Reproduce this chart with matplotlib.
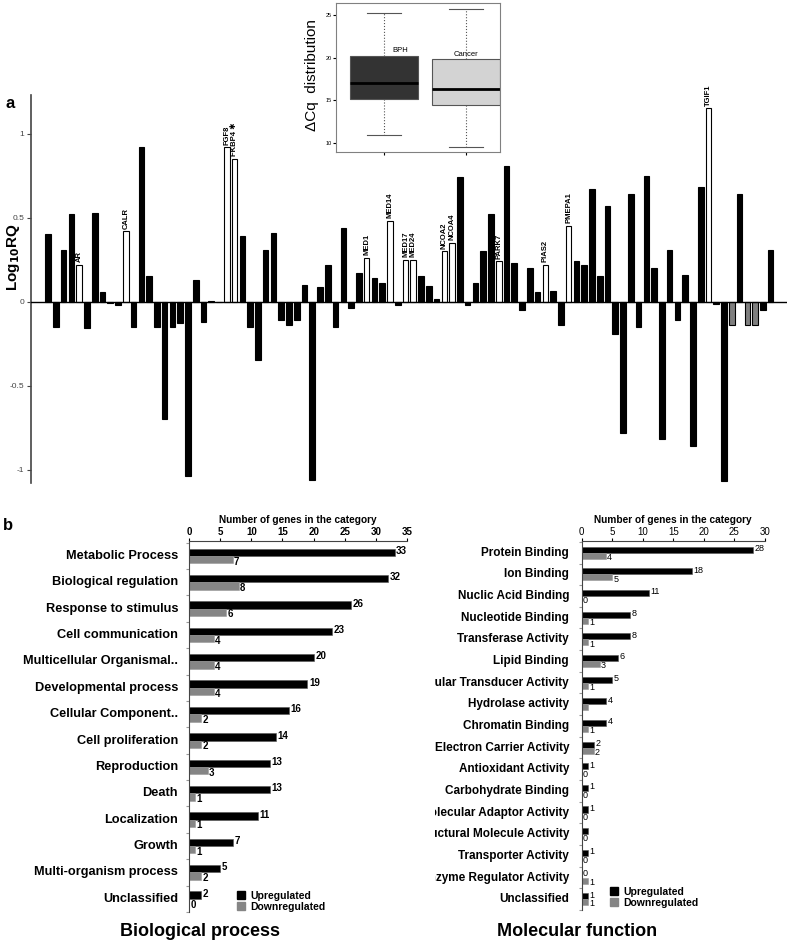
import matplotlib
matplotlib.use("Agg")
import matplotlib.pyplot as plt
from matplotlib.patches import Patch
from matplotlib.transforms import Bbox, TransformedBbox
from matplotlib import font_manager
import numpy as np

plt.rcParams["font.family"] = ["Liberation Sans", "DejaVu Sans"]

# ---- panel a: log10 RQ per gene ----
rq = [0.40, -0.15, 0.31, 0.52, 0.22, -0.16, 0.53, 0.06, -0.01, -0.02,
      0.42, -0.15, 0.92, 0.15, -0.15, -0.70, -0.15, -0.13, -1.04, 0.13,
      -0.12, 0.004, -0.004, 0.92, 0.85, 0.39, -0.15, -0.35, 0.31, 0.41,
      -0.11, -0.14, -0.11, 0.10, -1.06, 0.085, 0.22, -0.15, 0.44, -0.04,
      0.17, 0.26, 0.14, 0.11, 0.48, -0.02, 0.25, 0.25, 0.15, 0.09,
      0.014, 0.30, 0.35, 0.74, -0.02, 0.11, 0.30, 0.52, 0.24, 0.81,
      0.23, -0.05, 0.20, 0.06, 0.22, 0.065, -0.14, 0.45, 0.24, 0.22,
      0.67, 0.15, 0.57, -0.19, -0.78, 0.64, -0.15, 0.75, 0.20, -0.82,
      0.31, -0.11, 0.16, -0.86, 0.68, 1.15, -0.014, -1.07, -0.14, 0.64,
      -0.14, -0.14, -0.05, 0.31]
named_genes = {4: "AR", 10: "CALR", 23: "FGF8", 24: "FKBP4 \u2731", 41: "MED1",
               44: "MED14", 46: "MED17", 47: "MED24", 51: "NCOA2", 52: "NCOA4",
               58: "PARK7", 64: "PIAS2", 67: "PMEPA1", 85: "TGIF1"}
grey_genes = [88, 90, 91]

# inset boxplot stats (whislo, q1, med, q3, whishi)
bph_stats = [11.0, 15.2, 17.0, 20.2, 25.2]
cancer_stats = [9.6, 14.5, 16.3, 19.8, 25.7]

# ---- panel b ----
bp_cats = ["Metabolic Process", "Biological regulation", "Response to stimulus",
           "Cell communication", "Multicellular Organismal..", "Developmental process",
           "Cellular Component..", "Cell proliferation", "Reproduction", "Death",
           "Localization", "Growth", "Multi-organism process", "Unclassified"]
bp_up = [33, 32, 26, 23, 20, 19, 16, 14, 13, 13, 11, 7, 5, 2]
bp_down = [7, 8, 6, 4, 4, 4, 2, 2, 3, 1, 1, 1, 2, 0]

mf_cats = ["Protein Binding", "Ion Binding", "Nuclic Acid Binding", "Nucleotide Binding",
           "Transferase Activity", "Lipid Binding", "Molecular Transducer Activity",
           "Hydrolase activity", "Chromatin Binding", "Electron Carrier Activity",
           "Antioxidant Activity", "Carbohydrate Binding", "Molecular Adaptor Activity",
           "Structural Molecule Activity", "Transporter Activity",
           "Enzyme Regulator Activity", "Unclassified"]
mf_up = [28, 18, 11, 8, 8, 6, 5, 4, 4, 2, 1, 1, 1, 1, 1, 0, 1]
mf_down = [4, 5, 0, 1, 1, 3, 1, 1, 1, 2, 0, 0, 0, 0, 0, 1, 1]
mf_up_hidden = [13]
mf_down_hidden = [7]

W, H = 787, 946


def px_box(x0, y0, x1, y1):
    return [x0 / W, 1 - y1 / H, (x1 - x0) / W, (y1 - y0) / H]


names = {f.name for f in font_manager.fontManager.ttflist}
narrow = "Liberation Sans Narrow" if "Liberation Sans Narrow" in names else "Liberation Sans"

fig = plt.figure(figsize=(W / 100, H / 100), dpi=100)

# ---------------- panel a ----------------
ax = fig.add_axes(px_box(31, 95, 787, 483))
idx = np.arange(len(rq))
colors = []
for i in idx:
    if i in named_genes:
        colors.append("white")
    elif i in grey_genes:
        colors.append("#7f7f7f")
    else:
        colors.append("black")
ax.bar(idx, rq, width=0.72, color=colors, edgecolor="black", linewidth=0.8, zorder=2)
for i, name in named_genes.items():
    ax.text(i, rq[i] + 0.015, name, rotation=90, ha="center", va="bottom",
            fontsize=5.5, family=[narrow, "DejaVu Sans"], fontweight="bold")
ax.axhline(0, color="black", lw=1, zorder=3)
ax.set_xlim(-2.2, 95.1)
ax.set_ylim(-1.08, 1.23)
ax.set_yticks([-1, -0.5, 0, 0.5, 1])
ax.set_yticklabels(["-1", "-0.5", "0", "0.5", "1"])
ax.tick_params(axis="y", labelsize=6, length=3, colors="#444444", pad=2)
ax.set_xticks([])
for s in ["top", "right", "bottom"]:
    ax.spines[s].set_visible(False)
ax.spines["left"].set_color("#444444")
ax.spines["left"].set_linewidth(1.2)
fig.text(14 / W, 1 - 257 / H, r"Log$_{\mathbf{10}}$RQ", rotation=90, ha="center",
         va="center", fontsize=11, fontweight="bold")
fig.text(5 / W, 1 - 104 / H, "a", fontsize=12, fontweight="bold", va="center")

# inset
axi = fig.add_axes(px_box(336, 3, 500, 152))
stats = []
for lab, s in [("BPH", bph_stats), ("Cancer", cancer_stats)]:
    stats.append(dict(label=lab, whislo=s[0], q1=s[1], med=s[2], q3=s[3], whishi=s[4], fliers=[]))
bp = axi.bxp(stats, positions=[1, 2], widths=0.82, patch_artist=True, showfliers=False,
             whiskerprops=dict(linestyle=":", color="#555555", lw=0.8),
             capprops=dict(color="#555555", lw=0.8),
             medianprops=dict(color="black", lw=2),
             boxprops=dict(edgecolor="#555555", lw=0.8))
bp["boxes"][0].set_facecolor("#333333")
bp["boxes"][1].set_facecolor("#d3d3d3")
axi.set_xlim(0.42, 2.41)
axi.set_ylim(8.98, 26.37)
axi.set_yticks([10, 15, 20, 25])
axi.tick_params(axis="y", labelsize=4, length=2, pad=1)
axi.tick_params(axis="x", labelbottom=False, length=2)
for s in axi.spines.values():
    s.set_color("#808080")
axi.text(1.1, 20.4, "BPH", fontsize=5.5, family=[narrow, "DejaVu Sans"], va="bottom")
axi.text(1.85, 20.0, "Cancer", fontsize=5.5, family=[narrow, "DejaVu Sans"], va="bottom")
fig.text(312 / W, 1 - 75 / H, "\u0394Cq  distribution", rotation=90, ha="center",
         va="center", fontsize=11)

# ---------------- panel b ----------------
fig.text(3 / W, 1 - 526 / H, "b", fontsize=12, fontweight="bold", va="center")


def go_panel(rect, cats, up, down, xmax, ylim, bold_ticks, title, title_x,
             up_hidden=(), down_hidden=(), clip_x=None, leg_anchor=(0.2, 0.0),
             lab_weight="bold", lab_size=7, cat_size=8.5, cat_pad=0.055):
    a = fig.add_axes(rect)
    y = np.arange(len(cats))
    h = 0.28
    a.barh(y - h / 2, up, height=h, color="black", edgecolor="#555555", lw=0.4,
           label="Upregulated")
    a.barh(y + h / 2, down, height=h, color="#858585", edgecolor="#999999", lw=0.4,
           label="Downregulated")
    for i in y:
        if i not in up_hidden:
            a.text(up[i] + 0.25, i - h / 2 - 0.05, str(up[i]), va="center", ha="left",
                   fontsize=lab_size, fontweight=lab_weight)
        if i not in down_hidden:
            a.text(down[i] + 0.2, i + h / 2 + 0.08, str(down[i]), va="center", ha="left",
                   fontsize=lab_size, fontweight=lab_weight)
    a.set_xlim(0, xmax)
    a.set_ylim(ylim)
    a.xaxis.tick_top()
    a.xaxis.set_label_position("top")
    a.set_xticks(np.arange(0, xmax + 1, 5))
    a.tick_params(axis="x", labelsize=7, length=2, pad=1, colors="black")
    if bold_ticks:
        for t in a.get_xticklabels():
            t.set_fontweight("bold")
    a.set_xlabel("Number of genes in the category", fontsize=7.3, fontweight="bold",
                 labelpad=2.5)
    a.set_yticks(np.arange(-0.5, len(cats), 1))
    a.set_yticklabels([])
    a.tick_params(axis="y", length=2, color="#999999")
    for s in ["right", "bottom"]:
        a.spines[s].set_visible(False)
    a.spines["left"].set_color("#444444")
    a.spines["top"].set_color("#444444")
    for i, c in enumerate(cats):
        t = a.text(-cat_pad, i, c, transform=a.get_yaxis_transform(), ha="right",
                   va="center", fontsize=cat_size, fontweight="bold")
        if clip_x is not None:
            t.set_clip_on(True)
            t.set_clip_path(None)
            t.set_clip_box(TransformedBbox(Bbox([[clip_x / W, 0], [1, 1]]), fig.transFigure))
    a.legend(handles=[Patch(color="black"), Patch(color="#858585")],
             labels=["Upregulated", "Downregulated"], loc="lower left",
             bbox_to_anchor=leg_anchor, frameon=False, handlelength=0.8,
             handleheight=0.8, handletextpad=0.5, labelspacing=0.1,
             prop=dict(size=7.5, weight="bold"), borderaxespad=0)
    fig.text(title_x / W, 1 - 931 / H, title, ha="center", va="center", fontsize=13,
             fontweight="bold")
    return a


go_panel(px_box(189, 541, 407, 912), bp_cats, bp_up, bp_down, 35,
         (13.45, -0.566), True, "Biological process", 200, leg_anchor=(0.2, -0.01),
         cat_size=9.2, cat_pad=0.05)
go_panel(px_box(581.5, 541, 765, 910), mf_cats, mf_up, mf_down, 30,
         (16.5, -0.54), False, "Molecular function", 577,
         up_hidden=mf_up_hidden, down_hidden=mf_down_hidden, clip_x=435,
         leg_anchor=(0.13, -0.005), lab_weight="normal", lab_size=6.5, cat_pad=0.068)

fig.savefig("out.png", dpi=100)
